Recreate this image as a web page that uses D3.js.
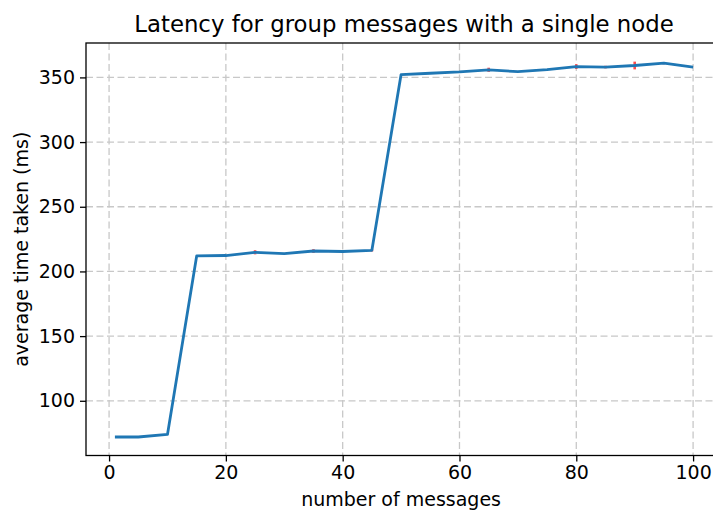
<!DOCTYPE html>
<html>
<head>
<meta charset="utf-8">
<script src="https://cdn.jsdelivr.net/npm/d3@7"></script>
<style>
  html, body { margin: 0; padding: 0; background: #fff; }
  svg { display: block; font-family: "DejaVu Sans", sans-serif; }
</style>
</head>
<body>
<svg id="chart" width="713" height="512"></svg>
<script>
// Number of messages sent per run
const messages = [1, 5, 10, 15, 20, 25, 30, 35, 40, 45, 50, 55, 60, 65, 70, 75, 80, 85, 90, 95, 100];
// Mean latency (ms)
const latency = [72, 72, 74, 212, 212.3, 214.8, 213.8, 215.8, 215.4, 216.3, 352.2, 353.2, 354.2, 355.9, 354.4, 356.0, 358.4, 358.0, 359.2, 361.0, 358.0];
// Standard deviation (ms)
const latencyErr = [0, 0, 0, 0, 0, 1.6, 0, 1.4, 0, 0.9, 0, 0, 0, 1.6, 0, 0, 1.8, 1.0, 3.0, 0.8, 0];

const xTicks = [0, 20, 40, 60, 80, 100];
const yTicks = [100, 150, 200, 250, 300, 350];

const svg = d3.select("#chart");
const m = { left: 86, top: 43, right: 722, bottom: 455.5 };

const x = d3.scaleLinear().domain([-3.95, 104.95]).range([m.left, m.right]);
const y = d3.scaleLinear().domain([57.7, 376.6]).range([m.bottom, m.top]);

// grid
const grid = svg.append("g").attr("stroke", "#c8c8c8").attr("stroke-width", 1.3)
  .attr("stroke-dasharray", "7,3.5");
grid.selectAll(".gx").data(xTicks).join("line")
  .attr("x1", d => x(d)).attr("x2", d => x(d)).attr("y1", m.top).attr("y2", m.bottom);
grid.selectAll(".gy").data(yTicks).join("line")
  .attr("y1", d => y(d)).attr("y2", d => y(d)).attr("x1", m.left).attr("x2", m.right);

// error bars
svg.append("g").attr("stroke", "#ff2020").attr("stroke-width", 2.6).attr("opacity", 0.8)
  .selectAll("line").data(messages.map((d, i) => [d, latency[i], latencyErr[i]]).filter(d => d[2] > 0))
  .join("line")
  .attr("x1", d => x(d[0])).attr("x2", d => x(d[0]))
  .attr("y1", d => y(d[1] - d[2])).attr("y2", d => y(d[1] + d[2]));

// latency line
svg.append("path")
  .datum(messages.map((d, i) => [d, latency[i]]))
  .attr("fill", "none").attr("stroke", "#1f77b4").attr("stroke-width", 2.8)
  .attr("stroke-linejoin", "round")
  .attr("d", d3.line().x(d => x(d[0])).y(d => y(d[1])));

// axes
const xAxis = svg.append("g").attr("transform", `translate(0,${m.bottom})`)
  .call(d3.axisBottom(x).tickValues(xTicks).tickSize(6).tickPadding(4).tickFormat(d3.format("d")));
const yAxis = svg.append("g").attr("transform", `translate(${m.left},0)`)
  .call(d3.axisLeft(y).tickValues(yTicks).tickSize(6).tickPadding(5).tickFormat(d3.format("d")));
[xAxis, yAxis].forEach(a => {
  a.select(".domain").remove();
  a.selectAll("line").attr("stroke", "#000").attr("stroke-width", 1.3);
  a.selectAll("text").attr("font-size", 19).attr("fill", "#000")
    .attr("font-family", "'DejaVu Sans', sans-serif");
});

// frame
svg.append("rect").attr("x", m.left).attr("y", m.top)
  .attr("width", m.right - m.left).attr("height", m.bottom - m.top)
  .attr("fill", "none").attr("stroke", "#000").attr("stroke-width", 1.3);

// labels
svg.append("text").attr("x", (m.left + m.right) / 2).attr("y", 31.5)
  .attr("text-anchor", "middle").attr("font-size", 22.8).attr("fill", "#000")
  .text("Latency for group messages with a single node");
svg.append("text").attr("x", x(50)).attr("y", 506)
  .attr("text-anchor", "middle").attr("font-size", 19).attr("fill", "#000")
  .text("number of messages");
svg.append("text").attr("transform", `translate(27.5,${(m.top + m.bottom) / 2}) rotate(-90)`)
  .attr("text-anchor", "middle").attr("font-size", 19).attr("fill", "#000")
  .text("average time taken (ms)");
</script>
</body>
</html>
